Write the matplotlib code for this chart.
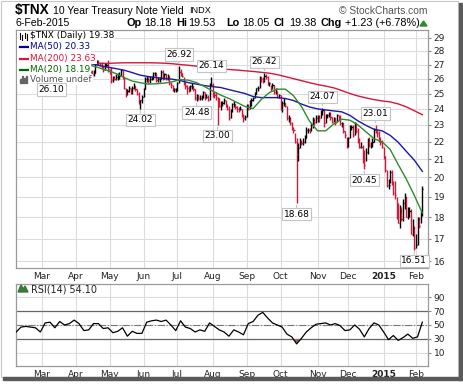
import numpy as np
import pandas as pd
import matplotlib
matplotlib.use("Agg")
import matplotlib.pyplot as plt
from matplotlib.patches import Rectangle, Polygon
from matplotlib.lines import Line2D
from matplotlib.ticker import FixedLocator, NullLocator

# ---------------- data ----------------
symbol = "$TNX"
name = "10 Year Treasury Note Yield"
exchange = "INDX"
quote_date = "6-Feb-2015"
op, hi, lo, cl, chg, chg_pct = 18.18, 19.53, 18.05, 19.38, 1.23, 6.78
ma50_last, ma200_last, ma20_last, rsi_last = 20.33, 23.63, 18.19, 54.10

holidays = ["2014-02-17", "2014-04-18", "2014-05-26", "2014-07-04", "2014-09-01",
            "2014-11-27", "2014-12-25", "2015-01-01", "2015-01-19"]
first_day, last_day = "2014-02-06", "2015-02-06"
bars_start = "2014-04-14"

bar_high = [
    26.6, 26.6, 26.6, 27.4, 27.3, 27.3, 27.2, 27.2, 26.9, 27.1, 27.1, 27.3,          # Apr
    26.7, 26.8, 26.2, 26.2, 26.3, 26.4, 26.5, 26.7, 26.6, 26.1, 25.4, 25.3, 25.5,    # May
    25.4, 25.5, 25.7, 25.5, 25.3, 25.1, 24.6, 24.9,
    25.4, 26.1, 26.2, 26.1, 26.2, 26.2, 26.5, 26.5, 26.4, 26.1, 26.1, 26.6, 26.6,    # Jun
    26.4, 26.3, 26.3, 26.2, 25.8, 25.6, 25.4, 25.4,
    25.8, 26.92, 26.7, 26.4, 26.1, 25.8, 25.6, 25.5, 25.6, 25.7, 25.5, 25.3, 25.0,   # Jul
    24.9, 24.9, 24.9, 25.2, 25.1, 25.0, 24.9, 25.7, 26.14,
    25.7, 25.1, 25.1, 24.8, 24.7, 24.5, 24.5, 24.7, 24.6, 24.3, 24.2, 24.0, 24.4,    # Aug
    24.5, 24.3, 24.2, 24.1, 24.2, 24.0, 23.7, 23.6,
    24.3, 24.3, 24.6, 24.7, 24.8, 25.1, 25.4, 25.5, 26.2, 26.1, 26.1, 26.42, 26.3,   # Sep
    26.2, 25.8, 25.6, 25.7, 25.6, 25.4, 25.2, 25.0,
    24.9, 24.5, 24.7, 24.4, 24.2, 23.6, 23.5, 23.2, 22.9, 22.5, 22.2, 21.9, 22.2,    # Oct
    22.1, 22.2, 22.4, 22.9, 22.8, 22.8, 23.1, 23.5, 23.4, 23.6,
    23.6, 23.6, 23.9, 24.07, 23.9, 23.7, 23.7, 23.8, 23.8, 23.5, 23.5, 23.4, 23.7,   # Nov
    23.6, 23.6, 23.2, 23.1, 22.6, 22.3,
    22.3, 23.0, 23.0, 23.0, 23.2, 23.1, 22.8, 22.2, 22.0, 21.8, 21.5, 21.6, 22.2,    # Dec
    22.3, 22.0, 22.2, 22.8, 23.01, 22.7, 22.6, 22.3, 22.1,
    21.7, 21.2, 20.4, 19.9, 20.4, 20.4, 19.8, 19.8, 19.0, 18.7, 18.6, 18.5, 18.9,    # Jan
    19.2, 19.0, 18.5, 18.5, 18.4, 17.9, 17.6,
    17.2, 18.0, 18.0, 18.3, 19.53,                                                    # Feb
]
bar_low = [
    26.2, 26.1, 26.2, 26.4, 27.0, 27.0, 26.9, 26.7, 26.5, 26.6, 26.8, 26.5,
    26.3, 25.7, 25.8, 25.9, 25.9, 25.9, 26.0, 26.2, 26.0, 25.3, 24.8, 24.9, 25.1,
    25.0, 25.0, 25.3, 25.2, 24.9, 24.3, 24.02, 24.4,
    24.8, 25.3, 25.8, 25.7, 25.7, 25.9, 26.0, 26.2, 25.8, 25.8, 25.8, 26.0, 25.9,
    26.0, 25.9, 25.9, 25.6, 25.4, 25.2, 25.1, 25.1,
    25.2, 25.7, 26.2, 26.1, 25.6, 25.3, 25.0, 25.1, 25.2, 25.3, 25.2, 24.6, 24.48,
    24.6, 24.6, 24.6, 24.7, 24.6, 24.7, 24.5, 24.6, 25.5,
    24.8, 24.7, 24.6, 23.0, 24.1, 23.9, 24.2, 24.3, 24.1, 23.9, 23.3, 23.4, 23.8,
    24.1, 24.0, 23.8, 23.8, 23.9, 23.5, 23.2, 23.3,
    23.5, 23.9, 24.0, 24.2, 24.5, 24.7, 25.0, 25.2, 25.4, 25.8, 25.7, 25.8, 26.0,
    25.6, 25.5, 25.2, 25.3, 25.0, 25.0, 24.7, 24.7,
    23.9, 23.8, 24.2, 24.1, 23.3, 23.2, 23.0, 22.7, 22.5, 21.9, 18.68, 20.9, 21.6,
    21.8, 21.8, 21.9, 22.2, 22.5, 22.5, 22.6, 22.8, 23.0, 23.1,
    23.2, 23.2, 23.4, 23.6, 22.9, 23.1, 23.4, 23.5, 23.3, 23.1, 23.2, 23.0, 23.2,
    23.3, 23.0, 22.9, 22.5, 22.2, 21.6,
    21.7, 22.2, 22.7, 22.3, 22.4, 22.5, 21.9, 21.6, 21.6, 20.8, 20.45, 20.9, 21.3,
    21.7, 21.6, 21.7, 22.0, 22.5, 22.3, 22.0, 21.8, 21.6,
    21.0, 20.3, 19.5, 19.4, 19.7, 19.6, 19.1, 18.9, 17.9, 17.7, 17.5, 17.8, 17.8,
    18.4, 18.0, 17.9, 18.0, 17.2, 17.1, 16.51,
    16.6, 16.7, 17.5, 17.7, 18.05,
]
bar_close = [
    26.5, 26.3, 26.4, 27.2, 27.2, 27.1, 27.0, 26.8, 26.6, 27.0, 27.0, 26.7,
    26.4, 25.9, 26.1, 26.0, 26.1, 26.2, 26.2, 26.6, 26.1, 25.4, 25.0, 25.2, 25.4,
    25.1, 25.4, 25.5, 25.3, 25.0, 24.4, 24.6, 24.8,
    25.3, 26.0, 26.0, 25.9, 26.0, 26.0, 26.4, 26.4, 25.9, 26.0, 26.0, 26.5, 26.1,
    26.3, 26.0, 26.2, 25.7, 25.6, 25.3, 25.3, 25.3,
    25.7, 26.5, 26.4, 26.2, 25.7, 25.5, 25.4, 25.2, 25.5, 25.5, 25.3, 24.7, 24.9,
    24.7, 24.7, 24.8, 25.1, 24.7, 24.8, 24.6, 25.6, 25.6,
    25.0, 24.9, 24.8, 24.7, 24.2, 24.3, 24.4, 24.6, 24.2, 24.0, 23.4, 23.9, 24.3,
    24.3, 24.1, 24.0, 23.9, 24.0, 23.6, 23.4, 23.5,
    24.2, 24.0, 24.5, 24.6, 24.7, 25.0, 25.4, 25.4, 26.1, 26.0, 25.9, 26.2, 26.1,
    25.7, 25.7, 25.4, 25.6, 25.1, 25.3, 24.8, 24.9,
    24.0, 24.4, 24.4, 24.2, 23.4, 23.4, 23.1, 22.8, 22.7, 22.0, 21.3, 21.6, 22.0,
    21.9, 22.0, 22.2, 22.7, 22.7, 22.6, 23.0, 23.3, 23.2, 23.4,
    23.5, 23.4, 23.8, 23.9, 23.1, 23.6, 23.6, 23.7, 23.5, 23.2, 23.4, 23.1, 23.6,
    23.4, 23.1, 23.1, 22.6, 22.4, 21.7,
    22.2, 22.9, 22.9, 22.4, 23.1, 22.6, 22.1, 21.7, 21.7, 20.9, 20.7, 21.4, 22.1,
    21.8, 21.8, 22.0, 22.7, 22.6, 22.5, 22.2, 22.0, 21.7,
    21.2, 20.4, 19.6, 19.6, 20.3, 19.7, 19.2, 19.1, 18.6, 17.7, 18.3, 17.9, 18.7,
    19.0, 18.0, 18.3, 18.3, 17.2, 17.5, 16.6,
    16.7, 17.9, 17.6, 18.1, 19.38,
]

ma_start, ma_step = "2014-04-15", 5
ma200 = [27.06, 27.08, 27.09, 27.11, 27.13, 27.13, 27.13, 27.13, 27.12, 27.10,
         27.06, 27.00, 26.95, 26.88, 26.81, 26.74, 26.69, 26.65, 26.61, 26.56,
         26.51, 26.45, 26.39, 26.29, 26.15, 26.01, 25.87, 25.73, 25.60, 25.50,
         25.38, 25.20, 25.00, 24.84, 24.71, 24.60, 24.51, 24.45, 24.32, 24.13,
         23.88, 23.63]
ma50 = [27.06, 26.92, 26.81, 26.71, 26.60, 26.43, 26.25, 26.15, 26.08, 26.02,
        25.97, 25.87, 25.73, 25.63, 25.53, 25.46, 25.40, 25.26, 25.13, 25.00,
        24.80, 24.73, 24.73, 24.73, 24.67, 24.54, 24.31, 24.12, 24.00, 23.93,
        23.87, 23.81, 23.59, 23.25, 22.97, 22.73, 22.64, 22.37, 21.96, 21.44,
        20.94, 20.33]
ma20 = [26.92, 26.75, 26.57, 26.36, 26.08, 25.84, 25.73, 25.63, 25.66, 25.70,
        25.80, 25.94, 25.90, 25.73, 25.46, 25.16, 24.89, 24.67, 24.41, 24.15,
        24.02, 24.60, 25.06, 25.29, 25.29, 24.86, 24.15, 23.23, 22.64, 22.64,
        23.05, 23.35, 23.29, 23.00, 22.58, 22.17, 21.99, 21.55, 20.70, 19.92,
        19.07, 18.19]

rsi_step = 3
rsi14 = [40, 47, 48, 47, 46, 40, 53, 54, 46, 55,
         50, 52, 57, 52, 42, 43, 52, 52, 45, 46,
         39, 41, 46, 34, 41, 38, 38, 54, 56, 57,
         55, 57, 50, 42, 56, 47, 45, 40, 43, 41,
         53, 48, 43, 40, 34, 43, 40, 36, 52, 55,
         64, 68, 60, 53, 50, 47, 37, 33, 23, 31,
         40, 46, 51, 52, 53, 50, 52, 49, 42, 43,
         50, 44, 33, 45, 53, 50, 40, 29, 35, 28,
         32, 37, 31, 33, 54.1]

low_label_dates = ["2014-05-29", "2014-07-18", "2014-08-06", "2014-10-15",
                   "2014-12-15", "2015-01-30"]
high_label_dates = ["2014-07-02", "2014-07-31", "2014-09-17", "2014-11-06",
                    "2014-12-24"]
hidden_low = ("2014-03-11", 26.10)

# ---------------- styling ----------------
RED = "#d4163c"
BLUE = "#1a1a9c"
GREEN = "#2e8b2e"
GRID = "#dcdcdc"
W, H = 464, 387

plt.rcParams["font.family"] = "DejaVu Sans"

days = pd.bdate_range(first_day, last_day)
days = days[~days.isin(pd.to_datetime(holidays))]


def pos(d):
    return days.get_loc(pd.Timestamp(d))


def box(x0, y0, x1, y1):
    return [x0 / W, 1 - y1 / H, (x1 - x0) / W, (y1 - y0) / H]


def ftext(x, y, s, **kw):
    return fig.text(x / W, 1 - y / H, s, **kw)


fig = plt.figure(figsize=(W / 100, H / 100), dpi=100)
ax = fig.add_axes(box(16, 30, 428, 268))
ax2 = fig.add_axes(box(16, 284, 428, 366))

# month ticks
idx = pd.Series(np.arange(len(days)), index=days)
firsts = idx.groupby(days.to_period("M")).first()
firsts = firsts[firsts.index >= pd.Period("2014-03", "M")]
mlabels = ["2015" if p.month == 1 else p.strftime("%b") for p in firsts.index]

xlim = (-0.1, 255.5)
for a in (ax, ax2):
    a.set_xlim(*xlim)
    a.set_xticks(firsts.values)
    a.set_xticklabels(mlabels, fontsize=6.5, color="#222222")
    for t in a.get_xticklabels():
        if t.get_text() == "2015":
            t.set_fontweight("bold")
    a.tick_params(axis="x", length=0, pad=3)
    a.tick_params(axis="y", length=2, color="#888888", labelsize=6.5,
                  labelcolor="#222222", pad=2)
    a.yaxis.tick_right()
    a.grid(True, color=GRID, lw=0.8)
    a.set_axisbelow(True)
    for sp in a.spines.values():
        sp.set_color("#9a9a9a")
        sp.set_linewidth(0.9)

# ---------------- price panel ----------------
ax.set_yscale("log")
ax.set_ylim(15.72, 29.6)
ax.yaxis.set_major_locator(FixedLocator(range(16, 30)))
ax.yaxis.set_minor_locator(NullLocator())
ax.set_yticklabels([str(v) for v in range(16, 30)])

b0 = pos(bars_start)
bx = np.arange(b0, b0 + len(bar_close))
close = np.array(bar_close)
prev = np.r_[close[0], close[:-1]]
colors = np.where(close >= prev, "black", RED)
ax.vlines(bx, bar_low, bar_high, colors=colors, lw=1.0, zorder=3)
ax.hlines(close, bx, bx + 0.7, colors=colors, lw=1.0, zorder=3)

mx = pos(ma_start) + ma_step * np.arange(len(ma50))
ax.plot(mx, ma200, color=RED, lw=1.0, zorder=4)
ax.plot(mx, ma50, color=BLUE, lw=1.0, zorder=4)
ax.plot(mx, ma20, color=GREEN, lw=1.0, zorder=4)

lbl_box = dict(boxstyle="square,pad=0.18", fc="white", ec="#c4c4c4", lw=0.8)
arrow = dict(arrowstyle="-", color="#c4c4c4", lw=0.8, shrinkA=0, shrinkB=1.5)
hi_arr = np.array(bar_high)
lo_arr = np.array(bar_low)
for d in low_label_dates:
    i = pos(d)
    v = lo_arr[i - b0]
    ax.annotate(f"{v:.2f}", xy=(i, v), xytext=(0, -8), textcoords="offset points",
                ha="center", va="center", fontsize=6.5, bbox=lbl_box,
                arrowprops=arrow, zorder=6)
for d in high_label_dates:
    i = pos(d)
    v = hi_arr[i - b0]
    ax.annotate(f"{v:.2f}", xy=(i, v), xytext=(0, 8), textcoords="offset points",
                ha="center", va="center", fontsize=6.5, bbox=lbl_box,
                arrowprops=arrow, zorder=6)

# legend in the price panel (opaque, hides the bars beneath)
legend_rows = [
    (f"{symbol} (Daily) {cl:.2f}", "black", 36),
    (f"MA(50) {ma50_last:.2f}", "#00008b", 47),
    (f"MA(200) {ma200_last:.2f}", "#dc143c", 58.5),
    (f"MA(20) {ma20_last:.2f}", "#006400", 69.5),
    ("Volume undef", "#555555", 79.5),
]
fig.add_artist(Rectangle((17 / W, 1 - 83 / H), 74 / W, 52 / H, fc="white", ec="none",
                         zorder=5))
for s, c, y in legend_rows:
    ftext(30, y, s, fontsize=6.4, color=c, va="center", ha="left", zorder=6,
          bbox=dict(boxstyle="square,pad=0.1", fc="white", ec="none"))
for c, y in (("#00008b", 47), ("#dc143c", 58.5), ("#006400", 69.5)):
    fig.add_artist(Line2D([20 / W, 28 / W], [1 - y / H] * 2, color=c, lw=1.6, zorder=6))
for x0, y0, y1 in ((20, 33, 39), (22, 35, 40), (25, 33, 38), (27, 34, 40)):
    fig.add_artist(Line2D([x0 / W] * 2, [1 - y0 / H, 1 - y1 / H], color="black",
                          lw=0.8, zorder=6))
for x0, hgt in ((20, 4), (22, 6), (24, 5), (26, 7)):
    fig.add_artist(Rectangle((x0 / W, 1 - 82.5 / H), 1.5 / W, hgt / H, color="#666666",
                             zorder=6))
# label of the low that sits under the legend
ftext(pos(hidden_low[0]) * (412 / (xlim[1] - xlim[0])) + 16.1, 89.5,
      f"{hidden_low[1]:.2f}", fontsize=6.5, ha="center", va="center", zorder=7,
      bbox=dict(boxstyle="square,pad=0.18", fc="white", ec="#c4c4c4", lw=0.8))

# ---------------- RSI panel ----------------
rx = rsi_step * np.arange(len(rsi14))
rsi = np.array(rsi14, dtype=float)
ax2.set_ylim(-8.6, 108.6)
ax2.set_yticks([10, 30, 50, 70, 90])
ax2.set_yticklabels(["10", "30", "50", "70", "90"])
ax2.axhline(70, color="#666666", lw=0.9, zorder=2)
ax2.axhline(30, color="#666666", lw=0.9, zorder=2)
ax2.axhline(50, color="#777777", lw=0.8, ls="-.", zorder=2)
ax2.fill_between(rx, rsi, 30, where=rsi < 30, interpolate=True,
                 color="#a0625c", lw=0, zorder=3)
ax2.plot(rx, rsi, color="black", lw=0.9, zorder=4)
ftext(31, 289.5, f"RSI(14) {rsi_last:.2f}", fontsize=6.9, color="#222222",
      va="center", ha="left")
fig.add_artist(Polygon([(18 / W, 1 - 292 / H), (21 / W, 1 - 285 / H),
                        (23.5 / W, 1 - 289 / H), (25 / W, 1 - 286 / H),
                        (28 / W, 1 - 292 / H)], closed=True, color="#3a7a3a"))

# ---------------- header ----------------
sans = "Liberation Sans"
ftext(15, 10, symbol, fontsize=9.8, fontweight="bold", family=sans, va="center")
ftext(53, 10.5, name, fontsize=7.6, family=sans, va="center")
ftext(189, 10.5, exchange, fontsize=6.6, family=sans, va="center")
ftext(428, 10.5, "\u00a9 StockCharts.com", fontsize=7.4, family=sans, va="center",
      ha="right", color="#555555")
ftext(15, 23.5, quote_date, fontsize=7.6, family=sans, va="center")
header = [("Op", 127, True), (f"{op:.2f}", 144, False), ("Hi", 176, True),
          (f"{hi:.2f}", 188, False), ("Lo", 226, True), (f"{lo:.2f}", 242, False),
          ("Cl", 274, True), (f"{cl:.2f}", 289, False), ("Chg", 321, True),
          (f"+{chg:.2f} (+{chg_pct:.2f}%)", 345, False)]
for s, x, bold in header:
    ftext(x, 23.5, s, fontsize=7.8, family=sans, va="center",
          fontweight="bold" if bold else "normal")
fig.add_artist(Polygon([(420 / W, 1 - 26 / H), (427 / W, 1 - 26 / H),
                        (423.5 / W, 1 - 21 / H)], closed=True, color="#2e8b2e"))

# ---------------- frame with shadow ----------------
fig.add_artist(Rectangle((0.5 / W, 1 - 376.5 / H), 458 / W, 376 / H, fill=False,
                         ec="#c8c8c8", lw=0.8))
fig.add_artist(Rectangle((459 / W, 1 - 380 / H), 3 / W, 377 / H, color="#5a5a5a"))
fig.add_artist(Rectangle((3 / W, 1 - 380 / H), 459 / W, 3 / H, color="#5a5a5a"))

fig.savefig("out.png", dpi=100, facecolor="white")
